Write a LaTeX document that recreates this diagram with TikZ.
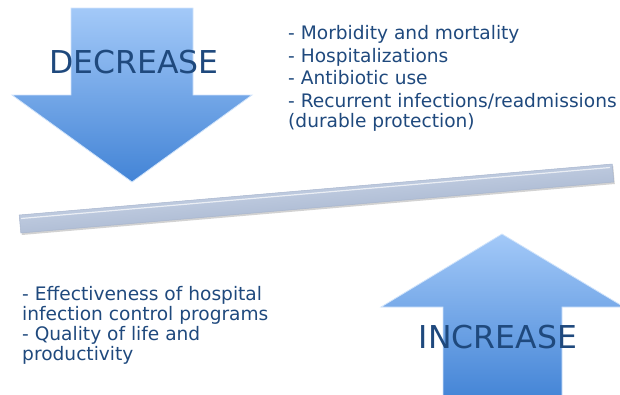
\documentclass[tikz,border=0pt]{standalone}
\usepackage{fontspec}
\setmainfont{DejaVu Sans}
\usepackage{xcolor}
\definecolor{txtblue}{HTML}{1F497D}
\definecolor{arrowlight}{HTML}{A3C9F8}
\definecolor{arrowdark}{HTML}{4384D6}
\definecolor{barlight}{HTML}{DCE5F3}
\definecolor{barfill}{HTML}{B6C6E0}
\definecolor{bardark}{HTML}{93A4C2}

\begin{document}
\begin{tikzpicture}[x=1pt, y=-1pt,
  bigarrow/.style={top color=arrowlight, bottom color=arrowdark, draw=arrowlight!50!white, line width=0.8pt},
  biglabel/.style={font=\fontsize{31.5}{34}\selectfont, text=txtblue, inner sep=0pt},
  listtext/.style={font=\fontsize{18.6}{20}\selectfont, text=txtblue, align=left, inner sep=0pt, anchor=north west}]
\useasboundingbox (0,0) rectangle (620,394);
\clip (0,0) rectangle (620,394);

% Decrease arrow
\draw[bigarrow] (71,8) -- (193,8) -- (193,95) -- (252,95) -- (132,182) -- (12,95) -- (71,95) -- cycle;
\node[biglabel, anchor=base] (decrease) at (134,73) {DECREASE};

% Things that go down
\node[listtext] (decreaselist) at (288,25) {- Morbidity and mortality\\[2.7pt] - Hospitalizations\\[2.7pt] - Antibiotic use\\[2.7pt] - Recurrent infections/readmissions\\ (durable protection)};

% Tilted bar
\fill[gray!35] (20.2,217) -- (613.2,166) -- (614.8,184) -- (21.8,235) -- cycle;
\shade[top color=barlight, middle color=barfill, bottom color=bardark, shading angle=5] (19.2,215) -- (612.2,164) -- (613.8,182) -- (20.8,233) -- cycle;
\draw[white, line width=1.2pt, opacity=0.7] (21,218.5) -- (610,167.5);
\draw[bardark!80!white, line width=0.5pt] (19.2,215) -- (612.2,164) -- (613.8,182) -- (20.8,233) -- cycle;

% Increase arrow
\draw[bigarrow] (502,234) -- (624,307) -- (562,307) -- (562,400) -- (443,400) -- (443,307) -- (381,307) -- cycle;
\node[biglabel, anchor=base] (increase) at (498,348) {INCREASE};

% Things that go up
\node[listtext] (increaselist) at (22,286) {- Effectiveness of hospital\\ infection control programs\\ - Quality of life and\\ productivity};
\end{tikzpicture}
\end{document}
